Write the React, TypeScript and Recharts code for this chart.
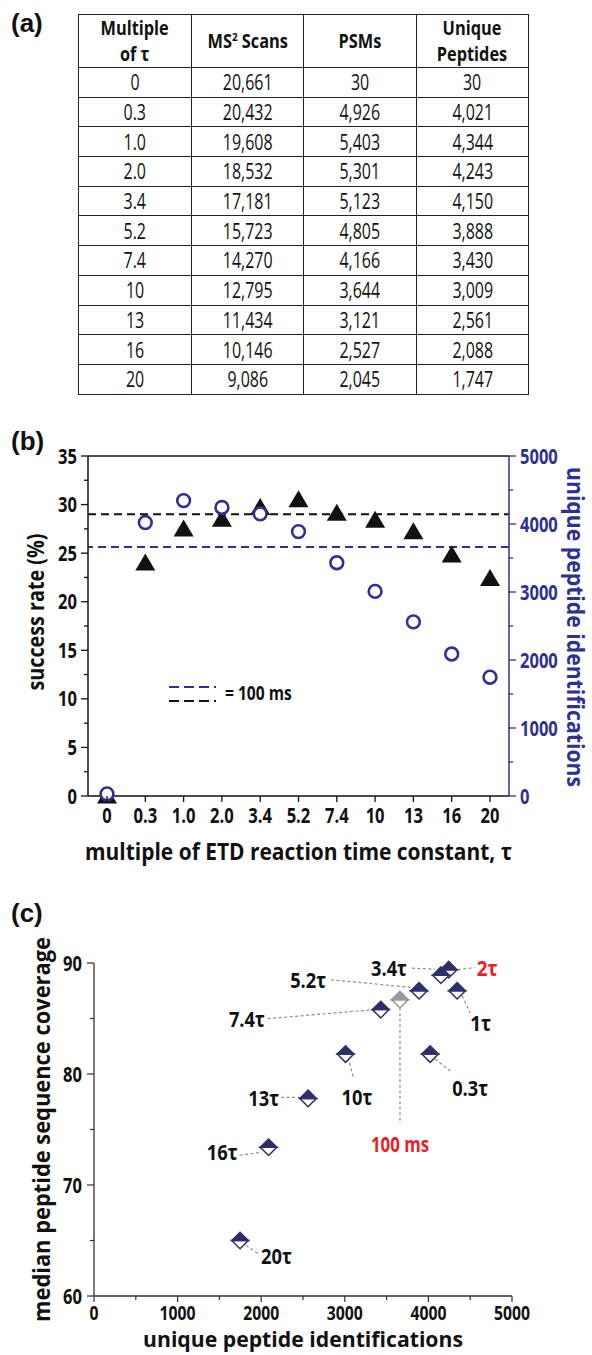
import React from "react";
import {
  ComposedChart,
  Line,
  XAxis,
  YAxis,
  ReferenceLine,
  Label,
  Customized,
  ScatterChart,
  Scatter,
} from "recharts";

const SANS = "'Open Sans', 'DejaVu Sans', sans-serif";
const BLACK = "#111";
const BLUE = "#2e3192";
const NAVY = "#2c2f6b";
const GRAY = "#9a9a9a";
const RED = "#ed1c24";
const LEADER = "#8c8c8c";

// (a) table / (b) x categories
const tauMultiples = ["0", "0.3", "1.0", "2.0", "3.4", "5.2", "7.4", "10", "13", "16", "20"];
const ms2Scans = [20661, 20432, 19608, 18532, 17181, 15723, 14270, 12795, 11434, 10146, 9086];
const psmCounts = [30, 4926, 5403, 5301, 5123, 4805, 4166, 3644, 3121, 2527, 2045];
const uniquePeptides = [30, 4021, 4344, 4243, 4150, 3888, 3430, 3009, 2561, 2088, 1747];

// (b)
const successRate = [0.1, 24.1, 27.6, 28.6, 29.8, 30.6, 29.2, 28.5, 27.3, 24.9, 22.5];
const ref100msSuccess = 29.0;
const ref100msPeptides = 3660;
const successTicks = [0, 2.5, 5, 7.5, 10, 12.5, 15, 17.5, 20, 22.5, 25, 27.5, 30, 32.5, 35];
const peptideTicks = [0, 500, 1000, 1500, 2000, 2500, 3000, 3500, 4000, 4500, 5000];

// (c)
const coverageLabels = ["0.3τ", "1τ", "2τ", "3.4τ", "5.2τ", "7.4τ", "10τ", "13τ", "16τ", "20τ"];
const coverageMedian = [81.8, 87.5, 89.4, 88.9, 87.5, 85.8, 81.8, 77.8, 73.4, 65.0];
const coverageRefLabel = "100 ms";
const coverageRefMedian = 86.7;
const coverageTicks = [60, 65, 70, 75, 80, 85, 90];
const idTicks = [0, 500, 1000, 1500, 2000, 2500, 3000, 3500, 4000, 4500, 5000];

// callout placement, pixel offsets from the marker
const callouts: Record<string, any> = {
  "0.3τ": { anchor: "start", dx: 22, dy: 34, from: [5, 5], to: [20, 17] },
  "1τ": { anchor: "start", dx: 13, dy: 32, from: [5, 5], to: [13, 22] },
  "2τ": { anchor: "start", dx: 28, dy: -2, from: [9, 0], to: [26, -2], color: RED },
  "3.4τ": { anchor: "end", dx: -34, dy: -7, from: [-29, -7], to: [-6, -6] },
  "5.2τ": { anchor: "end", dx: -93, dy: -11, from: [-88, -11], to: [-5, -3] },
  "7.4τ": { anchor: "end", dx: -116, dy: 9, from: [-113, 9], to: [-6, 0] },
  "10τ": { anchor: "start", dx: -4, dy: 43, from: [4, 9], to: [8, 25] },
  "13τ": { anchor: "end", dx: -29, dy: 0, from: [-27, -1], to: [-8, -1] },
  "16τ": { anchor: "end", dx: -31, dy: 5, from: [-29, 8], to: [-7, 5] },
  "20τ": { anchor: "start", dx: 21, dy: 15, from: [6, 5], to: [18, 13] },
  "100 ms": { anchor: "middle", dx: 0, dy: 144, from: [0, 8], to: [0, 124], color: RED },
};

const rateRows = tauMultiples.map((tau, i) => ({
  tau,
  success: successRate[i],
  peptides: uniquePeptides[i],
}));

const coverageRows = coverageLabels.map((label, i) => ({
  label,
  ids: uniquePeptides[i + 1],
  coverage: coverageMedian[i],
}));
const coverageRef = [{ label: coverageRefLabel, ids: ref100msPeptides, coverage: coverageRefMedian }];

// rough advance widths of a bold condensed face, in em
const narrowEm: Record<string, number> = { ".": 0.23, ",": 0.23, " ": 0.2, "τ": 0.5, m: 0.72, s: 0.37, "=": 0.5 };
const narrowWidth = (s: string, size: number) =>
  [...s].reduce((w, ch) => w + (narrowEm[ch] ?? 0.45), 0) * size;

function NarrowText({ x, y, text, size = 21, anchor = "start", fill = BLACK }: any) {
  return (
    <text
      x={x}
      y={y}
      textAnchor={anchor}
      fill={fill}
      fontFamily={SANS}
      fontWeight={700}
      fontSize={size}
      textLength={narrowWidth(String(text), size)}
      lengthAdjust="spacingAndGlyphs"
    >
      {text}
    </text>
  );
}

function AxisTitle({ cx, cy, angle = 0, text, len, color = BLACK, size = 24 }: any) {
  return (
    <text
      x={cx}
      y={cy}
      dy="0.33em"
      textAnchor="middle"
      transform={angle ? `rotate(${angle}, ${cx}, ${cy})` : undefined}
      fill={color}
      textLength={len}
      lengthAdjust="spacingAndGlyphs"
      fontFamily={SANS}
      fontWeight={700}
      fontSize={size}
    >
      {text}
    </text>
  );
}

function RateTick({ x, y, payload }: any) {
  const major = payload.value % 5 === 0;
  return (
    <g>
      <line x1={x} x2={x - (major ? 7 : 4)} y1={y} y2={y} stroke={BLACK} strokeWidth={1.3} />
      {major && <NarrowText x={x - 11} y={y + 7.5} anchor="end" text={payload.value} />}
    </g>
  );
}

function IdsTick({ x, y, payload }: any) {
  const major = payload.value % 1000 === 0;
  return (
    <g>
      <line x1={x} x2={x + (major ? 7 : 4)} y1={y} y2={y} stroke={BLUE} strokeWidth={1.3} />
      {major && <NarrowText x={x + 11} y={y + 7.5} text={payload.value} fill={BLUE} />}
    </g>
  );
}

function TauTick({ x, y, payload }: any) {
  return (
    <g>
      <line x1={x} x2={x} y1={y} y2={y + 6} stroke={BLACK} strokeWidth={1.3} />
      <NarrowText x={x} y={y + 27} anchor="middle" text={payload.value} />
    </g>
  );
}

function CoverageTick({ x, y, payload }: any) {
  const major = payload.value % 10 === 0;
  return (
    <g>
      <line x1={x} x2={x - (major ? 7 : 4)} y1={y} y2={y} stroke="#333" strokeWidth={1.2} />
      {major && <NarrowText x={x - 12} y={y + 7.5} anchor="end" text={payload.value} />}
    </g>
  );
}

function IdsTickC({ x, y, payload }: any) {
  const major = payload.value % 1000 === 0;
  return (
    <g>
      <line x1={x} x2={x} y1={y} y2={y + (major ? 6 : 4)} stroke="#333" strokeWidth={1.2} />
      {major && <NarrowText x={x} y={y + 24} anchor="middle" size={20} text={payload.value} />}
    </g>
  );
}

function renderTriangle(p: any) {
  const { cx, cy, index } = p;
  if (cx == null || cy == null) return <g key={`t-${index}`} />;
  return (
    <path
      key={`t-${index}`}
      d={`M${cx},${cy - 8.5} L${cx + 10},${cy + 8.5} L${cx - 10},${cy + 8.5} Z`}
      fill={BLACK}
    />
  );
}

function renderCircle(p: any) {
  const { cx, cy, index } = p;
  if (cx == null || cy == null) return <g key={`c-${index}`} />;
  return <circle key={`c-${index}`} cx={cx} cy={cy} r={6.4} fill="#fff" stroke={BLUE} strokeWidth={2.6} />;
}

function HalfDiamond({ cx, cy, color }: any) {
  const h = 8.3;
  return (
    <g>
      <path d={`M${cx - h},${cy} L${cx},${cy + h} L${cx + h},${cy} Z`} fill="#fff" stroke={color} strokeWidth={1.5} />
      <path d={`M${cx - h},${cy} L${cx},${cy - h} L${cx + h},${cy} Z`} fill={color} stroke={color} strokeWidth={1.5} />
    </g>
  );
}

function Callout({ cx, cy, payload }: any) {
  const c = callouts[payload.label];
  if (!c) return null;
  return (
    <g>
      <line
        x1={cx + c.from[0]}
        y1={cy + c.from[1]}
        x2={cx + c.to[0]}
        y2={cy + c.to[1]}
        stroke={LEADER}
        strokeWidth={1.2}
        strokeDasharray="3 2.5"
      />
      <NarrowText
        x={cx + c.dx}
        y={cy + c.dy + 8}
        anchor={c.anchor}
        size={22}
        text={payload.label}
        fill={c.color || BLACK}
      />
    </g>
  );
}

function Legend100ms() {
  return (
    <g>
      <line x1={161} x2={208} y1={267} y2={267} stroke={BLUE} strokeWidth={2} strokeDasharray="10 5" />
      <line x1={161} x2={208} y1={281} y2={281} stroke={BLACK} strokeWidth={2} strokeDasharray="10 5" />
      <NarrowText x={217} y={280} size={20} text="= 100 ms" />
    </g>
  );
}

const cell: React.CSSProperties = {
  border: "1.6px solid #222",
  padding: 0,
  textAlign: "center",
  verticalAlign: "middle",
};

function Squeeze({ k, children }: any) {
  return <span style={{ display: "inline-block", transform: `scaleX(${k})`, whiteSpace: "nowrap" }}>{children}</span>;
}

function PanelTag({ top, text }: any) {
  return (
    <div
      style={{
        position: "absolute",
        left: 11,
        top,
        fontFamily: "'Liberation Sans', Arial, sans-serif",
        fontWeight: 700,
        fontSize: 26,
        lineHeight: "26px",
        color: BLACK,
      }}
    >
      {text}
    </div>
  );
}

export default function App() {
  return (
    <div
      style={{
        position: "absolute",
        left: 0,
        top: 0,
        width: 592,
        height: 1355,
        overflow: "hidden",
        background: "#fff",
      }}
    >
      <PanelTag top={10} text="(a)" />
      <PanelTag top={428} text="(b)" />
      <PanelTag top={900} text="(c)" />

      <table
        style={{
          position: "absolute",
          left: 78,
          top: 14,
          width: 451,
          borderCollapse: "collapse",
          tableLayout: "fixed",
          fontFamily: SANS,
          color: BLACK,
        }}
      >
        <thead>
          <tr style={{ height: 52, fontSize: 19, fontWeight: 700 }}>
            <th style={{ ...cell, lineHeight: "26px" }}>
              <Squeeze k={0.86}>
                Multiple
                <br />
                of τ
              </Squeeze>
            </th>
            <th style={cell}>
              <Squeeze k={0.86}>
                MS<sup style={{ fontSize: "0.6em", lineHeight: 0 }}>2</sup> Scans
              </Squeeze>
            </th>
            <th style={cell}>
              <Squeeze k={0.86}>PSMs</Squeeze>
            </th>
            <th style={{ ...cell, lineHeight: "26px" }}>
              <Squeeze k={0.86}>
                Unique
                <br />
                Peptides
              </Squeeze>
            </th>
          </tr>
        </thead>
        <tbody>
          {tauMultiples.map((tau, i) => (
            <tr key={tau} style={{ height: 29.7, fontSize: 21 }}>
              <td style={cell}>
                <Squeeze k={0.76}>{tau}</Squeeze>
              </td>
              <td style={cell}>
                <Squeeze k={0.76}>{ms2Scans[i].toLocaleString("en-US")}</Squeeze>
              </td>
              <td style={cell}>
                <Squeeze k={0.76}>{psmCounts[i].toLocaleString("en-US")}</Squeeze>
              </td>
              <td style={cell}>
                <Squeeze k={0.76}>{uniquePeptides[i].toLocaleString("en-US")}</Squeeze>
              </td>
            </tr>
          ))}
        </tbody>
      </table>

      <div style={{ position: "absolute", left: 8, top: 420 }}>
        <ComposedChart width={584} height={460} data={rateRows} margin={{ top: 36, right: 0, bottom: 24, left: 0 }}>
          <XAxis
            dataKey="tau"
            type="category"
            height={60}
            interval={0}
            padding={{ left: 19, right: 19 }}
            tickSize={0}
            tickMargin={0}
            tickLine={false}
            tick={(p: any) => <TauTick {...p} />}
            axisLine={{ stroke: BLACK, strokeWidth: 1.5 }}
          >
            <Label
              content={({ viewBox }: any) => (
                <AxisTitle
                  cx={viewBox.x + viewBox.width / 2}
                  cy={viewBox.y + 56}
                  text="multiple of ETD reaction time constant, τ"
                  len={427}
                />
              )}
            />
          </XAxis>
          <YAxis
            yAxisId="rate"
            domain={[0, 35]}
            ticks={successTicks}
            interval={0}
            width={80}
            tickSize={0}
            tickMargin={0}
            tickLine={false}
            tick={(p: any) => <RateTick {...p} />}
            axisLine={{ stroke: BLACK, strokeWidth: 1.5 }}
          >
            <Label
              content={({ viewBox }: any) => (
                <AxisTitle cx={28} cy={viewBox.y + viewBox.height / 2 - 14} angle={-90} text="success rate (%)" len={157} />
              )}
            />
          </YAxis>
          <YAxis
            yAxisId="ids"
            orientation="right"
            domain={[0, 5000]}
            ticks={peptideTicks}
            interval={0}
            width={83}
            tickSize={0}
            tickMargin={0}
            tickLine={false}
            tick={(p: any) => <IdsTick {...p} />}
            axisLine={{ stroke: BLUE, strokeWidth: 1.5 }}
          >
            <Label
              content={({ viewBox }: any) => (
                <AxisTitle
                  cx={viewBox.x + 66}
                  cy={viewBox.y + viewBox.height / 2 + 1}
                  angle={90}
                  text="unique peptide identifications"
                  len={320}
                  color={BLUE}
                  size={23}
                />
              )}
            />
          </YAxis>
          <ReferenceLine yAxisId="rate" y={35} stroke={BLACK} strokeWidth={1.5} />
          <ReferenceLine yAxisId="rate" y={ref100msSuccess} stroke={BLACK} strokeWidth={2} strokeDasharray="8 5" />
          <ReferenceLine yAxisId="ids" y={ref100msPeptides} stroke={BLUE} strokeWidth={2} strokeDasharray="8 5" />
          <Line
            yAxisId="rate"
            dataKey="success"
            stroke="none"
            dot={renderTriangle}
            activeDot={false}
            isAnimationActive={false}
          />
          <Line
            yAxisId="ids"
            dataKey="peptides"
            stroke="none"
            dot={renderCircle}
            activeDot={false}
            isAnimationActive={false}
          />
          <Customized component={Legend100ms} />
        </ComposedChart>
      </div>

      <div style={{ position: "absolute", left: 8, top: 880 }}>
        <ScatterChart width={584} height={475} margin={{ top: 83, right: 80, bottom: 0, left: 0 }}>
          <XAxis
            type="number"
            dataKey="ids"
            domain={[0, 5000]}
            ticks={idTicks}
            interval={0}
            height={59}
            tickSize={0}
            tickMargin={0}
            tickLine={false}
            tick={(p: any) => <IdsTickC {...p} />}
            axisLine={{ stroke: "#333", strokeWidth: 1.3 }}
          >
            <Label
              content={({ viewBox }: any) => (
                <AxisTitle
                  cx={viewBox.x + viewBox.width / 2}
                  cy={viewBox.y + 44}
                  text="unique peptide identifications"
                  len={320}
                  size={22}
                />
              )}
            />
          </XAxis>
          <YAxis
            type="number"
            dataKey="coverage"
            domain={[60, 90]}
            ticks={coverageTicks}
            interval={0}
            width={86}
            tickSize={0}
            tickMargin={0}
            tickLine={false}
            tick={(p: any) => <CoverageTick {...p} />}
            axisLine={{ stroke: "#333", strokeWidth: 1.3 }}
          >
            <Label
              content={({ viewBox }: any) => (
                <AxisTitle
                  cx={34}
                  cy={viewBox.y + viewBox.height / 2}
                  angle={-90}
                  text="median peptide sequence coverage"
                  len={385}
                />
              )}
            />
          </YAxis>
          <Scatter
            data={[...coverageRows, ...coverageRef]}
            shape={(p: any) => <Callout {...p} />}
            isAnimationActive={false}
          />
          <Scatter data={coverageRef} shape={(p: any) => <HalfDiamond {...p} color={GRAY} />} isAnimationActive={false} />
          <Scatter data={coverageRows} shape={(p: any) => <HalfDiamond {...p} color={NAVY} />} isAnimationActive={false} />
        </ScatterChart>
      </div>
    </div>
  );
}
